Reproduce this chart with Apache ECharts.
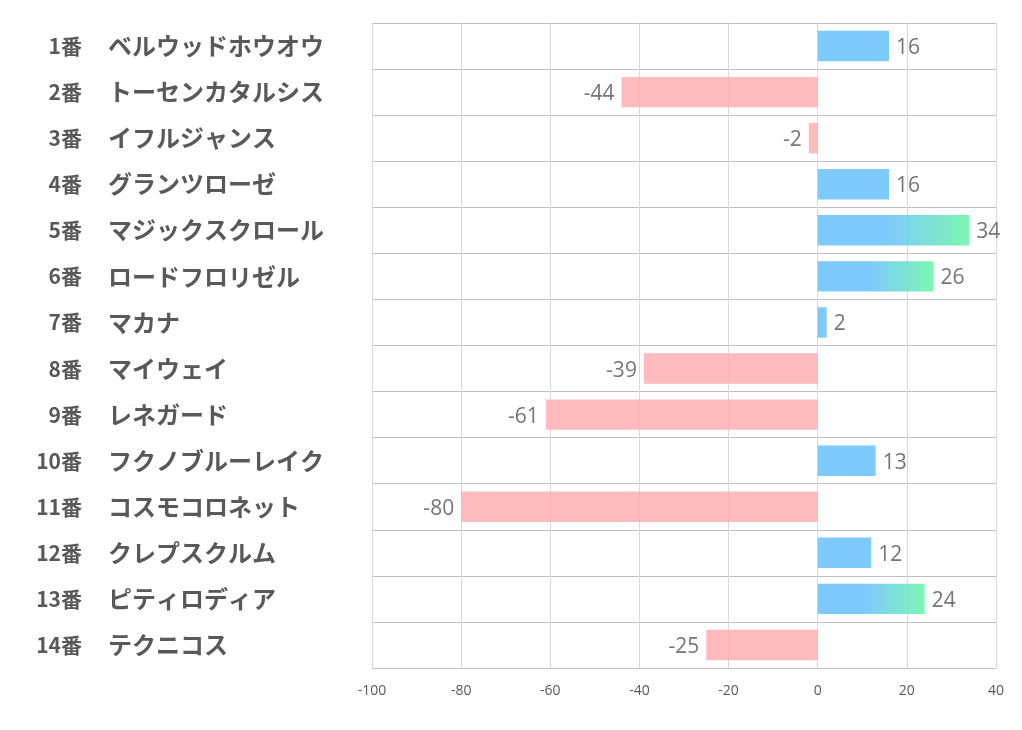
<!DOCTYPE html>
<html>
<head>
<meta charset="utf-8">
<script src="https://cdn.jsdelivr.net/npm/echarts@6/dist/echarts.min.js"></script>
<style>html,body{margin:0;padding:0;background:#fff;}#c{width:1022px;height:730px;}</style>
</head>
<body>
<div id="c"></div>
<script>
const numbers = ['1番','2番','3番','4番','5番','6番','7番','8番','9番','10番','11番','12番','13番','14番'];
const names = ['ベルウッドホウオウ','トーセンカタルシス','イフルジャンス','グランツローゼ','マジックスクロール','ロードフロリゼル','マカナ','マイウェイ','レネガード','フクノブルーレイク','コスモコロネット','クレプスクルム','ピティロディア','テクニコス'];
const values = [16, -44, -2, 16, 34, 26, 2, -39, -61, 13, -80, 12, 24, -25];
const xTicks = [-100, -80, -60, -40, -20, 0, 20, 40];

const BLUE = 'rgba(112,196,252,0.9)';
const GREEN = 'rgba(114,246,172,0.92)';
const PINK = 'rgba(255,172,175,0.82)';

const data = values.map(v => {
  let color;
  if (v < 0) color = PINK;
  else if (v >= 20) color = new echarts.graphic.LinearGradient(0, 0, 1, 0, [
    {offset: 0, color: BLUE}, {offset: 0.45, color: BLUE}, {offset: 1, color: GREEN}]);
  else color = BLUE;
  return {value: v, itemStyle: {color: color}, label: {position: v < 0 ? 'left' : 'right'}};
});

const JP = '"Noto Sans CJK JP", sans-serif';
const chart = echarts.init(document.getElementById('c'), null, {renderer: 'canvas'});
chart.setOption({
  animation: false,
  backgroundColor: '#ffffff',
  grid: {left: 372, right: 26, top: 23, bottom: 62, containLabel: false},
  xAxis: {
    type: 'value', min: xTicks[0], max: xTicks[xTicks.length - 1], interval: 20,
    axisLine: {show: false}, axisTick: {show: false},
    splitLine: {show: true, lineStyle: {color: '#d9d9d9', width: 1}},
    axisLabel: {color: '#595959', fontSize: 14, margin: 16, fontFamily: '"Open Sans", "Noto Sans", sans-serif'}
  },
  yAxis: [{
    type: 'category', data: numbers, inverse: true,
    axisLine: {show: false}, axisTick: {show: false},
    splitLine: {show: true, lineStyle: {color: '#bfbfbf', width: 1}},
    axisLabel: {align: 'right', margin: 290, fontSize: 21, fontWeight: 'bold', color: '#595959', fontFamily: JP, padding: [0, 0, 3, 0]}
  }, {
    type: 'category', data: names, inverse: true, position: 'left',
    axisLine: {show: false}, axisTick: {show: false}, splitLine: {show: false},
    axisLabel: {align: 'left', margin: 264, fontSize: 24, fontWeight: 'bold', color: '#595959', fontFamily: JP, padding: [0, 0, 3, 0]}
  }],
  series: [{
    type: 'bar', data: data, barWidth: '66%',
    label: {show: true, distance: 7, offset: [0, 2], color: '#757575', fontSize: 21, fontFamily: '"Open Sans", "Noto Sans", sans-serif'}
  }, {
    type: 'line', data: [], markLine: {silent: true, symbol: 'none', label: {show: false},
      lineStyle: {color: '#bfbfbf', type: 'solid', width: 1.5}, data: [{yAxis: numbers.length - 0.5}]}
  }]
});
</script>
</body>
</html>
